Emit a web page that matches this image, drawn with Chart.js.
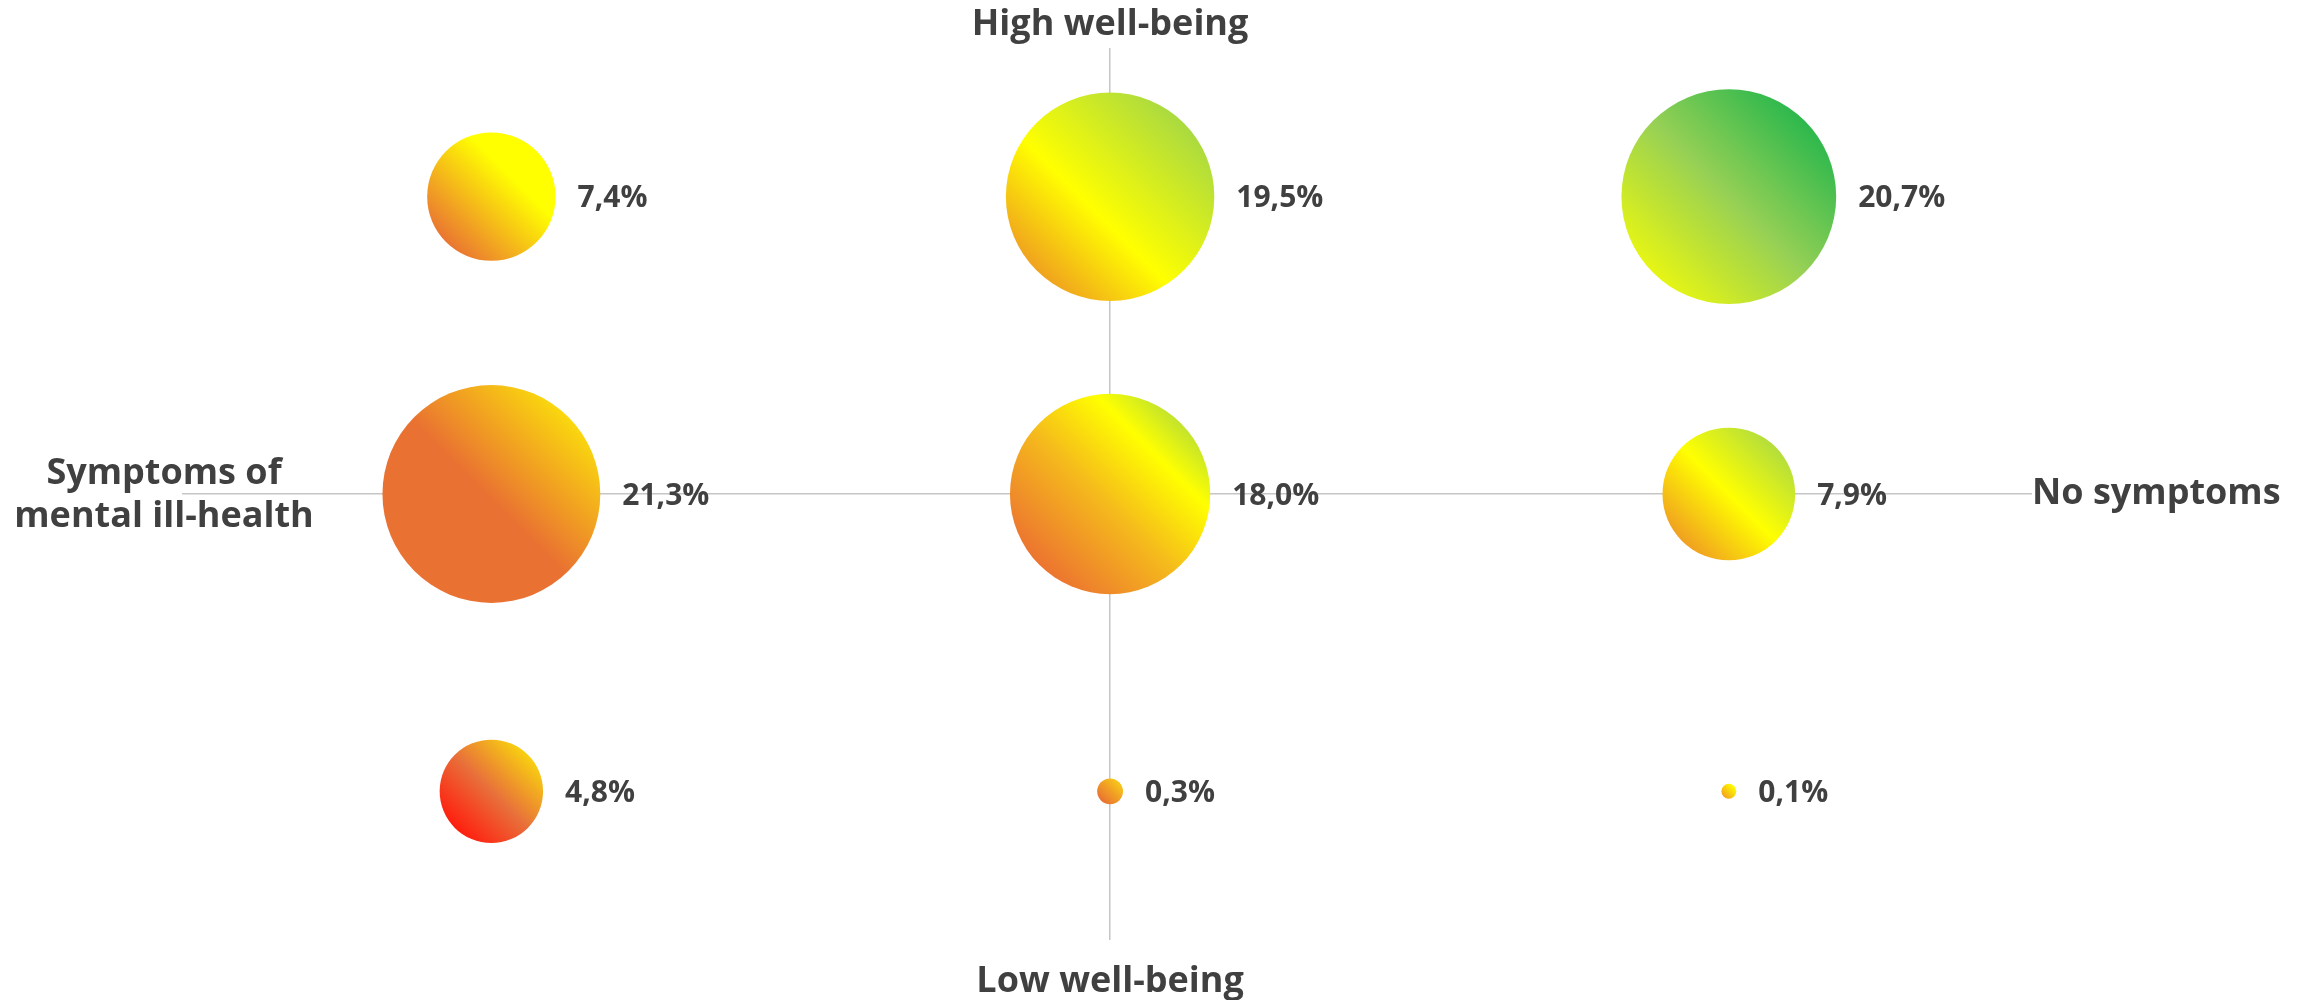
<!DOCTYPE html>
<html lang="en">
<head>
<meta charset="utf-8">
<title>Mental health and well-being</title>
<script src="https://cdn.jsdelivr.net/npm/chart.js@4.4.1/dist/chart.umd.min.js"></script>
<style>
  html, body { margin: 0; padding: 0; background: #ffffff; }
  #wrap { width: 2305px; height: 1000px; }
</style>
</head>
<body>
<div id="wrap"><canvas id="chart" width="2305" height="1000"></canvas></div>
<script>
// Axis end labels
const symptomLabels = [['Symptoms of', 'mental ill-health'], ['No symptoms']];
const wellBeingLabels = ['High well-being', 'Low well-being'];

// Grid positions: symptoms (left) -> no symptoms (right), high (top) -> low (bottom)
const symptomLevels = [-1, 0, 1];
const wellBeingLevels = [1, 0, -1];

// Share of respondents (%) per well-being row, across the symptom columns
const highWellBeing = [7.4, 19.5, 20.7];
const moderateWellBeing = [21.3, 18.0, 7.9];
const lowWellBeing = [4.8, 0.3, 0.1];

const rows = [highWellBeing, moderateWellBeing, lowWellBeing];

// Bubble area is proportional to the share
const BUBBLE_SCALE = 23.6;

// Diagonal gradient fills (bottom-left -> top-right) for each bubble
const fills = [
  [
    [[0, '#EA7532'], [0.72, '#FFFF00'], [1, '#FFFF00']],
    [[0, '#F0A21E'], [0.4, '#FFFF00'], [1, '#AADA40']],
    [[0, '#E6F514'], [0.5, '#96D055'], [1, '#2DB84D']]
  ],
  [
    [[0, '#E97132'], [0.48, '#E97132'], [1, '#FAD80E']],
    [[0, '#EC7430'], [0.45, '#F5BA1C'], [0.8, '#FFFF00'], [1, '#C2E42C']],
    [[0, '#F0A020'], [0.5, '#FFFF00'], [1, '#B4DE3C']]
  ],
  [
    [[0, '#FF1E0E'], [0.5, '#E8703A'], [1, '#F8D010']],
    [[0, '#E97132'], [1, '#F7C818']],
    [[0, '#F2A21E'], [1, '#FFFF00']]
  ]
];

const TEXT = '#404040';
const FONT = '"Open Sans", "Liberation Sans", sans-serif';

function bubbleFill(ctx) {
  if (ctx.type !== 'data') return 'transparent';
  const chart = ctx.chart;
  if (!chart.chartArea) return 'transparent';
  const raw = ctx.raw;
  const x = chart.scales.x.getPixelForValue(raw.x);
  const y = chart.scales.y.getPixelForValue(raw.y);
  const d = raw.r * Math.SQRT1_2;
  const g = chart.ctx.createLinearGradient(x - d, y + d, x + d, y - d);
  fills[ctx.datasetIndex][ctx.dataIndex].forEach(([t, c]) => g.addColorStop(t, c));
  return g;
}

const datasets = rows.map((values, row) => ({
  label: wellBeingLevels[row],
  data: values.map((v, col) => ({
    x: symptomLevels[col],
    y: wellBeingLevels[row],
    r: BUBBLE_SCALE * Math.sqrt(v),
    v: v
  })),
  backgroundColor: bubbleFill,
  borderWidth: 0,
  hoverBorderWidth: 0,
  hoverRadius: 0
}));

const valueLabels = {
  id: 'valueLabels',
  afterDatasetsDraw(chart) {
    const c = chart.ctx;
    c.save();
    c.fillStyle = TEXT;
    c.font = 'bold 30px ' + FONT;
    c.textAlign = 'left';
    c.textBaseline = 'middle';
    chart.data.datasets.forEach((ds, di) => {
      chart.getDatasetMeta(di).data.forEach((el, i) => {
        const p = ds.data[i];
        const txt = p.v.toFixed(1).replace('.', ',') + '%';
        c.fillText(txt, el.x + p.r + 22, el.y + 2);
      });
    });
    c.restore();
  }
};

const axisTitles = {
  id: 'axisTitles',
  afterDraw(chart) {
    const c = chart.ctx;
    const area = chart.chartArea;
    const x0 = chart.scales.x.getPixelForValue(0);
    const y0 = chart.scales.y.getPixelForValue(0);
    c.save();
    c.fillStyle = TEXT;
    c.font = 'bold 36px ' + FONT;
    c.textBaseline = 'alphabetic';

    c.textAlign = 'center';
    c.fillText(wellBeingLabels[0], x0, area.top - 13);
    c.fillText(wellBeingLabels[1], x0, area.bottom + 52);

    const left = symptomLabels[0];
    left.forEach((line, i) => {
      c.fillText(line, area.left - 18, y0 - 10 + i * 43);
    });

    c.textAlign = 'left';
    c.fillText(symptomLabels[1][0], area.right, y0 + 10);
    c.restore();
  }
};

const crossAt = { drawTicks: false, color: '#C6C6C6', lineWidth: 1.5 };

new Chart(document.getElementById('chart'), {
  type: 'bubble',
  data: { datasets },
  options: {
    responsive: false,
    devicePixelRatio: 1,
    animation: false,
    events: [],
    layout: { autoPadding: false, padding: { left: 182, right: 273, top: 48, bottom: 60 } },
    plugins: { legend: { display: false }, tooltip: { enabled: false } },
    scales: {
      x: {
        type: 'linear', min: -1.5, max: 1.49,
        ticks: { display: false },
        grid: crossAt,
        border: { display: false },
        afterBuildTicks: s => { s.ticks = [{ value: 0 }]; }
      },
      y: {
        type: 'linear', min: -1.5, max: 1.5,
        ticks: { display: false },
        grid: crossAt,
        border: { display: false },
        afterBuildTicks: s => { s.ticks = [{ value: 0 }]; }
      }
    }
  },
  plugins: [valueLabels, axisTitles]
});
</script>
</body>
</html>
